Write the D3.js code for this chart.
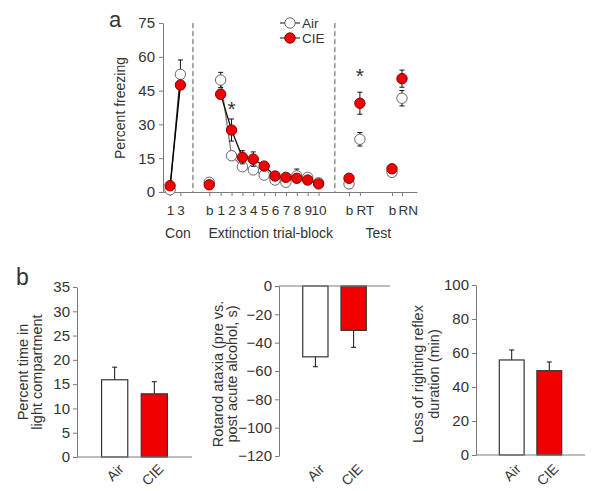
<!DOCTYPE html>
<html><head><meta charset="utf-8">
<script src="https://cdnjs.cloudflare.com/ajax/libs/d3/7.8.5/d3.min.js"></script>
<style>
html,body{margin:0;padding:0;background:#fff;}
svg{display:block;font-family:"Liberation Sans",Arial,sans-serif;}
</style></head><body>
<svg id="c" width="600" height="491"></svg>
<script>
// ---------- Panel a data ----------
const conLabels = ["1","3"];
const conPos = [0.65, 1.6];
const conAir = [1.0, 52.2];
const conAirErr = [0, 6.4];
const conCIE = [2.8, 47.5];
const conCIEErr = [0, 1.0];

const extLabels = ["b","1","2","3","4","5","6","7","8","9","10"];
const extPos = [4.25, 5.3, 6.3, 7.3, 8.3, 9.3, 10.3, 11.3, 12.3, 13.3, 14.3];
const extAir = [4.3, 49.7, 16.1, 11.2, 9.8, 7.5, 5.3, 4.3, 7.2, 6.5, 4.1];
const extAirErr = [0.6, 3.4, 2.0, 1.0, 1.0, 1.0, 0.8, 0.8, 3.0, 1.0, 0.8];
const extCIE = [3.2, 43.4, 27.5, 15.4, 14.6, 11.5, 7.1, 6.5, 6.1, 5.3, 3.6];
const extCIEErr = [0.6, 2.0, 4.9, 2.9, 3.2, 1.5, 1.0, 1.0, 1.0, 1.0, 1.0];

const testLabels = ["b","RT","b","RN"];
const testPos = [17.1, 18.1, 21.05, 21.97];
const testAir = [3.6, 23.4, 8.7, 41.6];
const testAirErr = [0.6, 3.0, 0.6, 3.4];
const testCIE = [6.1, 39.4, 10.3, 50.3];
const testCIEErr = [0.6, 4.9, 0.6, 3.8];

const yTicksA = [0, 15, 30, 45, 60, 75];
const separators = [2.75, 15.8];
const groupLabels = ["Con", "Extinction trial-block", "Test"];
const groupPos = [1.37, 9.9, 19.8];
const stars = [{pos: 6.3, v: 39.0}, {pos: 18.1, v: 53.7}];
const legendItems = ["Air", "CIE"];

// ---------- Panel b data ----------
const groups = ["Air", "CIE"];
const lightVals = [15.9, 13.0];
const lightErr = [2.6, 2.5];
const rotaVals = [-50.0, -31.3];
const rotaErr = [-7.0, -12.0];
const lorrVals = [55.9, 49.6];
const lorrErr = [5.9, 5.1];

const RED = "#f00000";
const TXT = "#333";
const AX = "#7a7a7a";
const FF = "Liberation Sans, Arial, sans-serif";

const svg = d3.select("#c");

// ================= Panel a =================
const x = d3.scaleLinear().domain([0, 23.35]).range([163, 417]);
const y = d3.scaleLinear().domain([0, 75]).range([192, 23]);

svg.append("text").attr("x", 109).attr("y", 27).attr("font-size", 22).attr("fill", TXT).text("a");

const yAx = svg.append("g").attr("transform", "translate(163,0)")
  .call(d3.axisLeft(y).tickValues(yTicksA).tickSize(4).tickSizeOuter(0).tickPadding(4));
yAx.selectAll("text").attr("font-size", 15);
const allPos = conPos.concat(extPos, testPos);
const allLab = conLabels.concat(extLabels, testLabels);
const xAx = svg.append("g").attr("transform", "translate(0,192)")
  .call(d3.axisBottom(x).tickValues(allPos).tickFormat((d, i) => allLab[i]).tickSize(4).tickSizeOuter(0).tickPadding(9));
xAx.selectAll("text").attr("font-size", 13.5)
  .each(function(d, i) {
    if (allLab[i].length > 1 && /[A-Z]/.test(allLab[i])) d3.select(this).attr("text-anchor", "start").attr("x", -4);
  });
[yAx, xAx].forEach(g => {
  g.select(".domain").attr("stroke", AX);
  g.selectAll(".tick line").attr("stroke", AX);
  g.selectAll("text").attr("fill", TXT).attr("font-family", FF);
});

svg.append("text").attr("transform", "translate(125,108) rotate(-90)")
  .attr("text-anchor", "middle").attr("font-size", 14).attr("fill", TXT).text("Percent freezing");

groupLabels.forEach((t, i) => {
  svg.append("text").attr("x", x(groupPos[i])).attr("y", 238).attr("text-anchor", "middle")
    .attr("font-size", 14).attr("fill", TXT).text(t);
});

separators.forEach(s => {
  svg.append("line").attr("x1", x(s)).attr("x2", x(s)).attr("y1", y(75)).attr("y2", y(0))
    .attr("stroke", "#777").attr("stroke-dasharray", "5,3").attr("stroke-width", 1.2);
});

function series(pos, vals, errs, fill, stroke, lineColor, drawLine, skipFirst) {
  const pts = pos.map((p, i) => ({p, v: vals[i], e: errs[i]}));
  if (drawLine) {
    const lp = skipFirst ? pts.slice(1) : pts;
    svg.append("path").datum(lp)
      .attr("d", d3.line().x(d => x(d.p)).y(d => y(d.v)))
      .attr("fill", "none").attr("stroke", lineColor).attr("stroke-width", 1.3);
  }
  const eg = svg.append("g");
  pts.forEach(d => {
    if (d.e <= 0) return;
    const x0 = x(d.p);
    eg.append("line").attr("x1", x0).attr("x2", x0).attr("y1", y(d.v - d.e)).attr("y2", y(d.v + d.e)).attr("stroke", "#111");
    [d.v - d.e, d.v + d.e].forEach(vv => {
      eg.append("line").attr("x1", x0 - 2.5).attr("x2", x0 + 2.5).attr("y1", y(vv)).attr("y2", y(vv)).attr("stroke", "#111");
    });
  });
  svg.append("g").selectAll("circle").data(pts).join("circle")
    .attr("cx", d => x(d.p)).attr("cy", d => y(d.v)).attr("r", 5.2)
    .attr("fill", fill).attr("stroke", stroke).attr("stroke-width", 1);
}

series(conPos, conAir, conAirErr, "#fff", "#666", "#333", true, false);
series(extPos, extAir, extAirErr, "#fff", "#666", "#777", true, true);
series(testPos, testAir, testAirErr, "#fff", "#666", "#777", false, false);
series(conPos, conCIE, conCIEErr, RED, "#800", "#000", true, false);
series(extPos, extCIE, extCIEErr, RED, "#800", "#111", true, true);
series(testPos, testCIE, testCIEErr, RED, "#800", "#111", false, false);

stars.forEach(s => {
  svg.append("text").attr("x", x(s.pos)).attr("y", y(s.v) + 12).attr("text-anchor", "middle")
    .attr("font-size", 21).attr("fill", TXT).text("*");
});

legendItems.forEach((t, i) => {
  const ly = 23 + i * 15;
  svg.append("line").attr("x1", 280).attr("x2", 300).attr("y1", ly).attr("y2", ly).attr("stroke", "#111");
  svg.append("circle").attr("cx", 290).attr("cy", ly).attr("r", 5.2)
    .attr("fill", i === 0 ? "#fff" : RED).attr("stroke", i === 0 ? "#666" : "#800");
  svg.append("text").attr("x", 302).attr("y", ly).attr("dy", "0.36em").attr("font-size", 13.5).attr("fill", TXT).text(t);
});

// ================= Panel b =================
svg.append("text").attr("x", 16).attr("y", 285).attr("font-size", 23).attr("fill", TXT).text("b");

function barPanel(opts) {
  const {x0, x1, yDom, yTop, yBot, ticks, vals, errs, labLines, labX, labY} = opts;
  const yb = d3.scaleLinear().domain(yDom).range([yBot, yTop]);
  const xb = d3.scaleBand().domain(groups).range([x0, x1]).paddingInner(0.34).paddingOuter(0.62);
  const ya = svg.append("g").attr("transform", `translate(${x0},0)`)
    .call(d3.axisLeft(yb).tickValues(ticks).tickSize(4).tickSizeOuter(0).tickPadding(3));
  ya.select(".domain").attr("stroke", AX);
  ya.selectAll(".tick line").attr("stroke", AX);
  ya.selectAll("text").attr("fill", TXT).attr("font-size", 15).attr("font-family", FF);
  const y0 = yb(0);
  groups.forEach((g, i) => {
    const cx = xb(g) + xb.bandwidth() / 2;
    const v = vals[i], e = errs[i];
    svg.append("line").attr("x1", cx).attr("x2", cx).attr("y1", yb(v)).attr("y2", yb(v + e)).attr("stroke", "#111");
    svg.append("line").attr("x1", cx - 2.5).attr("x2", cx + 2.5).attr("y1", yb(v + e)).attr("y2", yb(v + e)).attr("stroke", "#111");
    svg.append("rect").attr("x", xb(g)).attr("width", xb.bandwidth())
      .attr("y", Math.min(yb(v), y0)).attr("height", Math.abs(yb(v) - y0))
      .attr("fill", i === 0 ? "#fff" : RED).attr("stroke", "#333").attr("stroke-width", 1.2);
    svg.append("text").attr("transform", `translate(${cx + 10},470) rotate(-45)`)
      .attr("text-anchor", "end").attr("font-size", 14).attr("fill", TXT).text(g);
  });
  svg.append("line").attr("x1", x0).attr("x2", x1).attr("y1", y0).attr("y2", y0).attr("stroke", AX);
  labLines.forEach((t, i) => {
    svg.append("text").attr("transform", `translate(${labX[i]},${labY}) rotate(-90)`)
      .attr("text-anchor", "middle").attr("font-size", 14.5).attr("fill", TXT).text(t);
  });
}

barPanel({x0: 77, x1: 192, yDom: [0, 35], yTop: 287, yBot: 457, ticks: d3.range(0, 36, 5),
  vals: lightVals, errs: lightErr, labLines: ["Percent time in", "light compartment"], labX: [28, 42], labY: 372});
barPanel({x0: 279, x1: 390, yDom: [-120, 0], yTop: 286, yBot: 456, ticks: d3.range(-120, 1, 20),
  vals: rotaVals, errs: rotaErr, labLines: ["Rotarod ataxia (pre vs.", "post acute alcohol, s)"], labX: [223, 237], labY: 374});
barPanel({x0: 476, x1: 585, yDom: [0, 100], yTop: 285, yBot: 455, ticks: d3.range(0, 101, 20),
  vals: lorrVals, errs: lorrErr, labLines: ["Loss of righting reflex", "duration (min)"], labX: [423, 439], labY: 374});
</script>
</body></html>
